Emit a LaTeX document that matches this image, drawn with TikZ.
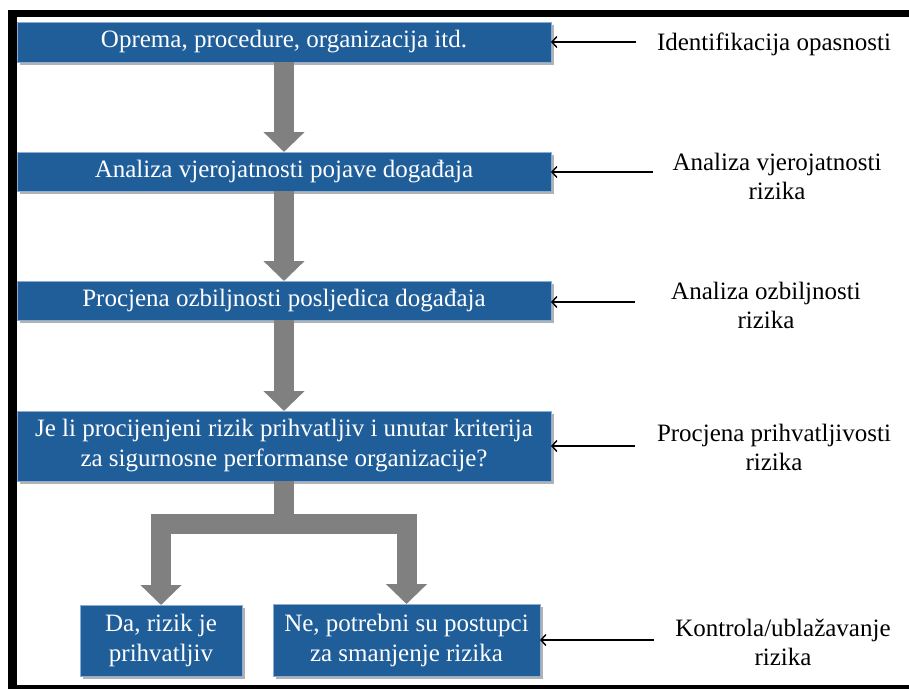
\documentclass[tikz,border=0pt]{standalone}
\usepackage{fontspec}
\setmainfont{Liberation Serif}
\usetikzlibrary{arrows.meta,shadows}
\definecolor{boxblue}{RGB}{32,94,154}
\definecolor{boxedge}{RGB}{140,172,212}
\definecolor{flowgray}{RGB}{128,128,128}
\tikzset{
  box/.style={draw=boxedge, line width=0.8pt, fill=boxblue, text=white,
    align=center, inner sep=0pt, outer sep=0pt,
    font=\fontsize{25}{30}\selectfont,
    drop shadow={shadow xshift=3pt, shadow yshift=-3pt, opacity=0.3, fill=black}},
  lbl/.style={align=center, inner sep=0pt, font=\fontsize{25}{29}\selectfont},
  flow/.style={draw=flowgray, line width=20pt, line join=miter,
    -{Triangle[length=20pt, width=40pt]}},
  bar/.style={draw=flowgray, line width=20pt, line join=miter},
  side/.style={draw=black, line width=1.4pt, -{Straight Barb[length=5pt, width=11pt]}}
}
\begin{document}
\begin{tikzpicture}[x=1pt, y=-1pt]
\useasboundingbox (0,0) rectangle (909,689);
% frame
\fill[black] (8,10) rectangle (909,17);
\fill[black] (8,10) rectangle (17,689);
\fill[black] (8,685) rectangle (909,689);

% boxes
\node[box, minimum width=534pt, minimum height=40pt] (b1) at (284,42)
  {Oprema, procedure, organizacija itd.};
\node[box, minimum width=534pt, minimum height=39pt] (b2) at (284,171.5)
  {Analiza vjerojatnosti pojave događaja};
\node[box, minimum width=534pt, minimum height=39pt] (b3) at (284,300.5)
  {Procjena ozbiljnosti posljedica događaja};
\node[box, minimum width=534pt, minimum height=70pt] (b4) at (284,446)
  {Je li procijenjeni rizik prihvatljiv i unutar kriterija\\za sigurnosne performanse organizacije?};
\node[box, minimum width=162pt, minimum height=71pt] (b5) at (161,640.5)
  {Da, rizik je\\prihvatljiv};
\node[box, minimum width=267pt, minimum height=72pt] (b6) at (406.5,640)
  {Ne, potrebni su postupci\\za smanjenje rizika};

% gray flow arrows
\draw[flow] (b1.south) -- (b2.north);
\draw[flow] (b2.south) -- (b3.north);
\draw[flow] (b3.south) -- (b4.north);
\coordinate (split) at (284,524);
\draw[bar] (b4.south) -- (split);
\draw[flow] (split) -| (b5.north);
\draw[flow] (split) -| (b6.north);

% side labels
\node[lbl] (l1) at (774,44) {Identifikacija opasnosti};
\node[lbl] (l2) at (777,176) {Analiza vjerojatnosti\\rizika};
\node[lbl] (l3) at (766,305) {Analiza ozbiljnosti\\rizika};
\node[lbl] (l4) at (774,447) {Procjena prihvatljivosti\\rizika};
\node[lbl] (l5) at (783,642) {Kontrola/ublažavanje\\rizika};

\coordinate (s1) at (636,42);
\coordinate (s2) at (653,172);
\coordinate (s3) at (635,302);
\coordinate (s4) at (635,446);
\coordinate (s5) at (654,640);
\draw[side] (s1) -- (b1.east |- s1);
\draw[side] (s2) -- (b2.east |- s2);
\draw[side] (s3) -- (b3.east |- s3);
\draw[side] (s4) -- (b4.east |- s4);
\draw[side] (s5) -- (b6.east |- s5);
\end{tikzpicture}
\end{document}
